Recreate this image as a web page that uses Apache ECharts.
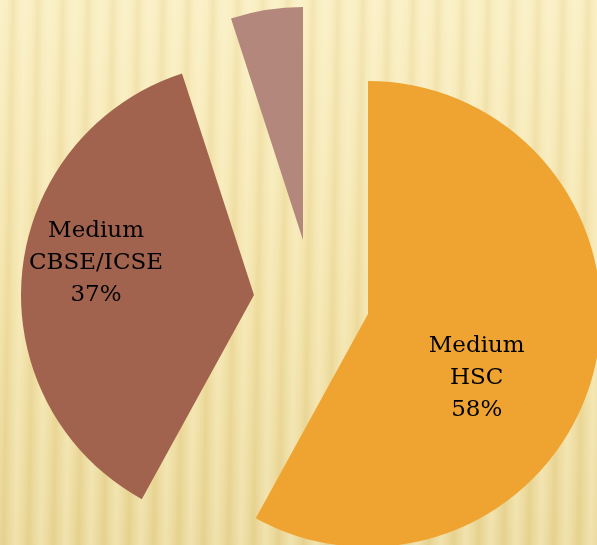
<!DOCTYPE html>
<html>
<head>
<meta charset="utf-8">
<script src="https://cdn.jsdelivr.net/npm/echarts@6/dist/echarts.min.js"></script>
<style>
  html, body { margin: 0; padding: 0; }
  body {
    width: 597px; height: 545px; overflow: hidden;
    background:
      repeating-linear-gradient(91deg,
        rgba(255,250,220,0.35) 0px,
        rgba(255,250,220,0.12) 7px,
        rgba(205,175,90,0.13) 13px,
        rgba(255,250,220,0.12) 19px,
        rgba(255,250,220,0.35) 25px),
      linear-gradient(180deg, #f9edc0 0%, #f2e1a6 55%, #e9d696 100%);
  }
  #chart { width: 597px; height: 545px; }
</style>
</head>
<body>
<div id="chart"></div>
<script>
const categories = ['Medium\nHSC', 'Medium\nCBSE/ICSE', 'Other'];
const percentValues = [58, 37, 5];
const showLabel = [true, true, false];

const colors = ['#EFA330', '#A2634E', '#B4877C'];
const centers = [[368, 314], [254, 295], [303, 240]];
const labelOffsets = [[-7, 34], [-39, -21], [0, 0]];

const chart = echarts.init(document.getElementById('chart'), null, { renderer: 'canvas' });

const series = categories.map(function (_, k) {
  return {
    type: 'pie',
    radius: 233,
    center: centers[k],
    startAngle: 90,
    clockwise: true,
    silent: true,
    animation: false,
    avoidLabelOverlap: false,
    labelLine: { show: false },
    data: categories.map(function (name, i) {
      const visible = i === k;
      return {
        name: name,
        value: percentValues[i],
        itemStyle: { color: visible ? colors[i] : 'rgba(0,0,0,0)' },
        label: {
          show: visible && showLabel[i],
          position: 'inside',
          offset: labelOffsets[i],
          formatter: function (p) { return p.name + '\n' + p.value + '%'; },
          color: '#000',
          fontFamily: 'DejaVu Serif',
          fontSize: 23,
          lineHeight: 32,
          align: 'center'
        }
      };
    })
  };
});

chart.setOption({
  backgroundColor: 'transparent',
  series: series
});
</script>
</body>
</html>
